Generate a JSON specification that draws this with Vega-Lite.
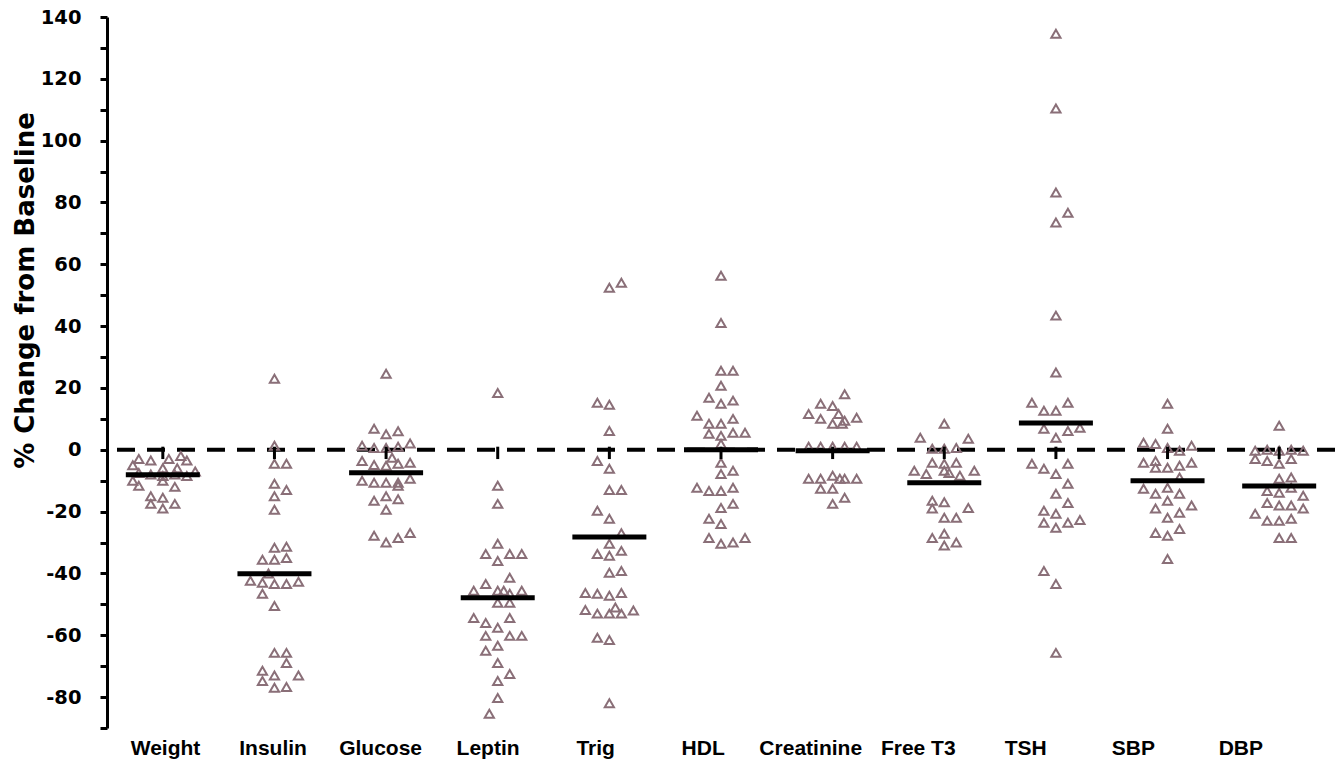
{
  "$schema": "https://vega.github.io/schema/vega-lite/v6.json",
  "autosize": {"type": "none"},
  "padding": {"left": 107, "top": 17, "right": 5, "bottom": 34},
  "width": 1228,
  "height": 711,
  "background": "white",
  "config": {"view": {"stroke": null}, "font": "DejaVu Sans"},
  "datasets": {
    "med": [
      {"category": "Weight", "median": -8.1},
      {"category": "Insulin", "median": -40.1},
      {"category": "Glucose", "median": -7.4},
      {"category": "Leptin", "median": -47.9},
      {"category": "Trig", "median": -28.2},
      {"category": "HDL", "median": 0},
      {"category": "Creatinine", "median": -0.3},
      {"category": "Free T3", "median": -10.7},
      {"category": "TSH", "median": 8.7},
      {"category": "SBP", "median": -10},
      {"category": "DBP", "median": -11.7}
    ],
    "pts": [
      {"category": "Weight", "slot": -2, "pct": -3},
      {"category": "Weight", "slot": -1, "pct": -3.5},
      {"category": "Weight", "slot": 0.5, "pct": -3},
      {"category": "Weight", "slot": 1.5, "pct": -2},
      {"category": "Weight", "slot": 2, "pct": -3.5},
      {"category": "Weight", "slot": 0, "pct": -6},
      {"category": "Weight", "slot": 1.2, "pct": -6},
      {"category": "Weight", "slot": -2.5, "pct": -5},
      {"category": "Weight", "slot": -2, "pct": -7.5},
      {"category": "Weight", "slot": -1, "pct": -8},
      {"category": "Weight", "slot": 0, "pct": -8.5},
      {"category": "Weight", "slot": 1, "pct": -8},
      {"category": "Weight", "slot": 2, "pct": -8.5},
      {"category": "Weight", "slot": 2.7, "pct": -7},
      {"category": "Weight", "slot": -2.5, "pct": -10},
      {"category": "Weight", "slot": -2, "pct": -11.6},
      {"category": "Weight", "slot": 0, "pct": -10},
      {"category": "Weight", "slot": 1, "pct": -12},
      {"category": "Weight", "slot": -1, "pct": -15},
      {"category": "Weight", "slot": 0, "pct": -15.5},
      {"category": "Weight", "slot": 1, "pct": -17.5},
      {"category": "Weight", "slot": -1, "pct": -17.5},
      {"category": "Weight", "slot": 0, "pct": -19},

      {"category": "Insulin", "slot": 0, "pct": 23},
      {"category": "Insulin", "slot": 0, "pct": 1.3},
      {"category": "Insulin", "slot": 0, "pct": -4.5},
      {"category": "Insulin", "slot": 1, "pct": -4.5},
      {"category": "Insulin", "slot": 0, "pct": -11},
      {"category": "Insulin", "slot": 1, "pct": -13},
      {"category": "Insulin", "slot": 0, "pct": -15},
      {"category": "Insulin", "slot": 0, "pct": -19.4},
      {"category": "Insulin", "slot": 0, "pct": -31.7},
      {"category": "Insulin", "slot": 1, "pct": -31.4},
      {"category": "Insulin", "slot": -1, "pct": -35.6},
      {"category": "Insulin", "slot": 0, "pct": -35.6},
      {"category": "Insulin", "slot": 1, "pct": -35},
      {"category": "Insulin", "slot": -0.5, "pct": -40},
      {"category": "Insulin", "slot": -2, "pct": -42.4},
      {"category": "Insulin", "slot": -1, "pct": -43},
      {"category": "Insulin", "slot": 0, "pct": -43.4},
      {"category": "Insulin", "slot": 1, "pct": -43.4},
      {"category": "Insulin", "slot": 2, "pct": -42.7},
      {"category": "Insulin", "slot": -1, "pct": -46.6},
      {"category": "Insulin", "slot": 0, "pct": -50.5},
      {"category": "Insulin", "slot": 0, "pct": -65.7},
      {"category": "Insulin", "slot": 1, "pct": -65.7},
      {"category": "Insulin", "slot": 1, "pct": -69},
      {"category": "Insulin", "slot": -1, "pct": -71.5},
      {"category": "Insulin", "slot": 0, "pct": -73},
      {"category": "Insulin", "slot": -1, "pct": -74.8},
      {"category": "Insulin", "slot": 2, "pct": -73},
      {"category": "Insulin", "slot": 0, "pct": -77},
      {"category": "Insulin", "slot": 1, "pct": -76.7},

      {"category": "Glucose", "slot": 0, "pct": 24.6},
      {"category": "Glucose", "slot": -1, "pct": 6.8},
      {"category": "Glucose", "slot": 0, "pct": 5},
      {"category": "Glucose", "slot": 1, "pct": 6},
      {"category": "Glucose", "slot": -2, "pct": 1.3},
      {"category": "Glucose", "slot": -1, "pct": 0.6},
      {"category": "Glucose", "slot": 0, "pct": 0.6},
      {"category": "Glucose", "slot": 1, "pct": 1},
      {"category": "Glucose", "slot": 2, "pct": 2},
      {"category": "Glucose", "slot": 0.5, "pct": -2.6},
      {"category": "Glucose", "slot": -2, "pct": -3.6},
      {"category": "Glucose", "slot": -1, "pct": -4.9},
      {"category": "Glucose", "slot": 0, "pct": -5.2},
      {"category": "Glucose", "slot": 1, "pct": -4.5},
      {"category": "Glucose", "slot": 2, "pct": -4.2},
      {"category": "Glucose", "slot": -2, "pct": -10},
      {"category": "Glucose", "slot": -1, "pct": -10.7},
      {"category": "Glucose", "slot": 0, "pct": -10.7},
      {"category": "Glucose", "slot": 1, "pct": -10.7},
      {"category": "Glucose", "slot": 2, "pct": -9.4},
      {"category": "Glucose", "slot": 1, "pct": -11.6},
      {"category": "Glucose", "slot": -1, "pct": -16.5},
      {"category": "Glucose", "slot": 0, "pct": -15},
      {"category": "Glucose", "slot": 1, "pct": -16},
      {"category": "Glucose", "slot": 0, "pct": -19.4},
      {"category": "Glucose", "slot": -1, "pct": -27.8},
      {"category": "Glucose", "slot": 0, "pct": -30},
      {"category": "Glucose", "slot": 1, "pct": -28.5},
      {"category": "Glucose", "slot": 2, "pct": -26.9},

      {"category": "Leptin", "slot": 0, "pct": 18.4},
      {"category": "Leptin", "slot": 0, "pct": -11.6},
      {"category": "Leptin", "slot": 0, "pct": -17.5},
      {"category": "Leptin", "slot": -1, "pct": -33.7},
      {"category": "Leptin", "slot": 0, "pct": -30.4},
      {"category": "Leptin", "slot": 0, "pct": -36},
      {"category": "Leptin", "slot": 1, "pct": -33.7},
      {"category": "Leptin", "slot": 2, "pct": -33.7},
      {"category": "Leptin", "slot": 1, "pct": -41.4},
      {"category": "Leptin", "slot": -2, "pct": -45.6},
      {"category": "Leptin", "slot": -1, "pct": -43.4},
      {"category": "Leptin", "slot": 0, "pct": -45.6},
      {"category": "Leptin", "slot": 0.5, "pct": -45.6},
      {"category": "Leptin", "slot": 1, "pct": -46.6},
      {"category": "Leptin", "slot": 2, "pct": -45.6},
      {"category": "Leptin", "slot": 0, "pct": -49.5},
      {"category": "Leptin", "slot": 1, "pct": -49.5},
      {"category": "Leptin", "slot": -2, "pct": -54.4},
      {"category": "Leptin", "slot": -1, "pct": -56},
      {"category": "Leptin", "slot": 0, "pct": -57.6},
      {"category": "Leptin", "slot": 1, "pct": -54.4},
      {"category": "Leptin", "slot": -1, "pct": -60.2},
      {"category": "Leptin", "slot": 1, "pct": -60.2},
      {"category": "Leptin", "slot": 2, "pct": -60.2},
      {"category": "Leptin", "slot": -1, "pct": -65},
      {"category": "Leptin", "slot": 0, "pct": -63.4},
      {"category": "Leptin", "slot": 0, "pct": -69},
      {"category": "Leptin", "slot": 0, "pct": -74.8},
      {"category": "Leptin", "slot": 1, "pct": -72.5},
      {"category": "Leptin", "slot": 0, "pct": -80.3},
      {"category": "Leptin", "slot": -0.7, "pct": -85.4},

      {"category": "Trig", "slot": 0, "pct": 52.4},
      {"category": "Trig", "slot": 1, "pct": 54},
      {"category": "Trig", "slot": -1, "pct": 15.2},
      {"category": "Trig", "slot": 0, "pct": 14.6},
      {"category": "Trig", "slot": 0, "pct": 6.1},
      {"category": "Trig", "slot": -1, "pct": -3.6},
      {"category": "Trig", "slot": 0, "pct": -6.1},
      {"category": "Trig", "slot": 0, "pct": -13},
      {"category": "Trig", "slot": 1, "pct": -13},
      {"category": "Trig", "slot": -1, "pct": -19.7},
      {"category": "Trig", "slot": 0, "pct": -22.3},
      {"category": "Trig", "slot": 1, "pct": -27},
      {"category": "Trig", "slot": 0, "pct": -30.4},
      {"category": "Trig", "slot": -1, "pct": -33.7},
      {"category": "Trig", "slot": 0, "pct": -34.3},
      {"category": "Trig", "slot": 1, "pct": -32.7},
      {"category": "Trig", "slot": 0, "pct": -39.8},
      {"category": "Trig", "slot": 1, "pct": -39.2},
      {"category": "Trig", "slot": -2, "pct": -46.3},
      {"category": "Trig", "slot": -1, "pct": -46.6},
      {"category": "Trig", "slot": 0, "pct": -47.2},
      {"category": "Trig", "slot": 1, "pct": -46.3},
      {"category": "Trig", "slot": -2, "pct": -51.8},
      {"category": "Trig", "slot": -1, "pct": -53},
      {"category": "Trig", "slot": 0, "pct": -53},
      {"category": "Trig", "slot": 0.5, "pct": -51},
      {"category": "Trig", "slot": 1, "pct": -53},
      {"category": "Trig", "slot": 2, "pct": -52},
      {"category": "Trig", "slot": -1, "pct": -60.8},
      {"category": "Trig", "slot": 0, "pct": -61.5},
      {"category": "Trig", "slot": 0, "pct": -82},

      {"category": "HDL", "slot": 0, "pct": 56.3},
      {"category": "HDL", "slot": 0, "pct": 41},
      {"category": "HDL", "slot": 0, "pct": 25.6},
      {"category": "HDL", "slot": 1, "pct": 25.6},
      {"category": "HDL", "slot": 0, "pct": 20.7},
      {"category": "HDL", "slot": -1, "pct": 16.8},
      {"category": "HDL", "slot": 0, "pct": 14.9},
      {"category": "HDL", "slot": 1, "pct": 15.9},
      {"category": "HDL", "slot": -2, "pct": 11},
      {"category": "HDL", "slot": -1, "pct": 8.4},
      {"category": "HDL", "slot": 0, "pct": 8.4},
      {"category": "HDL", "slot": 1, "pct": 10},
      {"category": "HDL", "slot": -1, "pct": 5.2},
      {"category": "HDL", "slot": 0, "pct": 4.5},
      {"category": "HDL", "slot": 1, "pct": 5.5},
      {"category": "HDL", "slot": 2, "pct": 5.5},
      {"category": "HDL", "slot": 0, "pct": 1.9},
      {"category": "HDL", "slot": 0, "pct": -4.2},
      {"category": "HDL", "slot": 0, "pct": -7.8},
      {"category": "HDL", "slot": 1, "pct": -6.8},
      {"category": "HDL", "slot": -2, "pct": -12.3},
      {"category": "HDL", "slot": -1, "pct": -13.3},
      {"category": "HDL", "slot": 0, "pct": -13.3},
      {"category": "HDL", "slot": 1, "pct": -12.3},
      {"category": "HDL", "slot": 0, "pct": -18.8},
      {"category": "HDL", "slot": 1, "pct": -17.5},
      {"category": "HDL", "slot": -1, "pct": -22.3},
      {"category": "HDL", "slot": 0, "pct": -24},
      {"category": "HDL", "slot": -1, "pct": -28.5},
      {"category": "HDL", "slot": 0, "pct": -30.4},
      {"category": "HDL", "slot": 1, "pct": -30},
      {"category": "HDL", "slot": 2, "pct": -28.5},

      {"category": "Creatinine", "slot": 1, "pct": 18},
      {"category": "Creatinine", "slot": -1, "pct": 14.9},
      {"category": "Creatinine", "slot": 0, "pct": 14.2},
      {"category": "Creatinine", "slot": -2, "pct": 11.6},
      {"category": "Creatinine", "slot": -1, "pct": 10},
      {"category": "Creatinine", "slot": 0.5, "pct": 11.6},
      {"category": "Creatinine", "slot": 1, "pct": 9.4},
      {"category": "Creatinine", "slot": 2, "pct": 10.4},
      {"category": "Creatinine", "slot": 0, "pct": 8.4},
      {"category": "Creatinine", "slot": 0.8, "pct": 8.4},
      {"category": "Creatinine", "slot": -2, "pct": 1},
      {"category": "Creatinine", "slot": -1, "pct": 1},
      {"category": "Creatinine", "slot": 0, "pct": 1},
      {"category": "Creatinine", "slot": 1, "pct": 1},
      {"category": "Creatinine", "slot": 2, "pct": 1},
      {"category": "Creatinine", "slot": -2, "pct": -9.4},
      {"category": "Creatinine", "slot": -1, "pct": -9.4},
      {"category": "Creatinine", "slot": 0, "pct": -8.4},
      {"category": "Creatinine", "slot": 0.6, "pct": -9.4},
      {"category": "Creatinine", "slot": 1, "pct": -9.4},
      {"category": "Creatinine", "slot": 2, "pct": -9.4},
      {"category": "Creatinine", "slot": -1, "pct": -12.6},
      {"category": "Creatinine", "slot": 0, "pct": -12.6},
      {"category": "Creatinine", "slot": 1, "pct": -15.5},
      {"category": "Creatinine", "slot": 0, "pct": -17.5},

      {"category": "Free T3", "slot": 0, "pct": 8.4},
      {"category": "Free T3", "slot": -2, "pct": 3.9},
      {"category": "Free T3", "slot": 2, "pct": 3.6},
      {"category": "Free T3", "slot": -1, "pct": 0.3},
      {"category": "Free T3", "slot": 0, "pct": 0.3},
      {"category": "Free T3", "slot": 1, "pct": 0.6},
      {"category": "Free T3", "slot": -1, "pct": -4.2},
      {"category": "Free T3", "slot": 0, "pct": -4.5},
      {"category": "Free T3", "slot": 1, "pct": -4.2},
      {"category": "Free T3", "slot": -2.5, "pct": -6.8},
      {"category": "Free T3", "slot": -1.5, "pct": -7.8},
      {"category": "Free T3", "slot": 0, "pct": -6.8},
      {"category": "Free T3", "slot": 0.4, "pct": -7.5},
      {"category": "Free T3", "slot": 1.3, "pct": -8.4},
      {"category": "Free T3", "slot": 2.5, "pct": -6.8},
      {"category": "Free T3", "slot": -1, "pct": -16.5},
      {"category": "Free T3", "slot": 0, "pct": -17},
      {"category": "Free T3", "slot": -1, "pct": -19},
      {"category": "Free T3", "slot": 2, "pct": -18.8},
      {"category": "Free T3", "slot": 0, "pct": -22},
      {"category": "Free T3", "slot": 1, "pct": -22},
      {"category": "Free T3", "slot": -1, "pct": -28.5},
      {"category": "Free T3", "slot": 0, "pct": -27.2},
      {"category": "Free T3", "slot": 1, "pct": -30},
      {"category": "Free T3", "slot": 0, "pct": -31},

      {"category": "TSH", "slot": 0, "pct": 134.6},
      {"category": "TSH", "slot": 0, "pct": 110.4},
      {"category": "TSH", "slot": 0, "pct": 83.2},
      {"category": "TSH", "slot": 1, "pct": 76.7},
      {"category": "TSH", "slot": 0, "pct": 73.5},
      {"category": "TSH", "slot": 0, "pct": 43.4},
      {"category": "TSH", "slot": 0, "pct": 25},
      {"category": "TSH", "slot": -2, "pct": 15.2},
      {"category": "TSH", "slot": -1, "pct": 12.6},
      {"category": "TSH", "slot": 0, "pct": 12.6},
      {"category": "TSH", "slot": 1, "pct": 15.2},
      {"category": "TSH", "slot": -1, "pct": 6.8},
      {"category": "TSH", "slot": 0, "pct": 3.9},
      {"category": "TSH", "slot": 1, "pct": 6.1},
      {"category": "TSH", "slot": 2, "pct": 7.1},
      {"category": "TSH", "slot": -2, "pct": -4.5},
      {"category": "TSH", "slot": -1, "pct": -6.1},
      {"category": "TSH", "slot": 0, "pct": -7.8},
      {"category": "TSH", "slot": 1, "pct": -4.5},
      {"category": "TSH", "slot": 1, "pct": -11},
      {"category": "TSH", "slot": 0, "pct": -14.2},
      {"category": "TSH", "slot": 1, "pct": -17.2},
      {"category": "TSH", "slot": -1, "pct": -19.7},
      {"category": "TSH", "slot": 0, "pct": -20.7},
      {"category": "TSH", "slot": -1, "pct": -23.6},
      {"category": "TSH", "slot": 0, "pct": -25.2},
      {"category": "TSH", "slot": 1, "pct": -23.6},
      {"category": "TSH", "slot": 2, "pct": -22.7},
      {"category": "TSH", "slot": -1, "pct": -39.2},
      {"category": "TSH", "slot": 0, "pct": -43.4},
      {"category": "TSH", "slot": 0, "pct": -65.7},

      {"category": "SBP", "slot": 0, "pct": 14.9},
      {"category": "SBP", "slot": 0, "pct": 6.8},
      {"category": "SBP", "slot": -2, "pct": 2.3},
      {"category": "SBP", "slot": -1, "pct": 1.9},
      {"category": "SBP", "slot": 0, "pct": 0.6},
      {"category": "SBP", "slot": 1, "pct": -0.3},
      {"category": "SBP", "slot": 2, "pct": 1.3},
      {"category": "SBP", "slot": -2, "pct": -4.2},
      {"category": "SBP", "slot": -1, "pct": -3.6},
      {"category": "SBP", "slot": -1, "pct": -5.8},
      {"category": "SBP", "slot": 0, "pct": -5.8},
      {"category": "SBP", "slot": 1, "pct": -5.2},
      {"category": "SBP", "slot": 2, "pct": -4.2},
      {"category": "SBP", "slot": 1, "pct": -9},
      {"category": "SBP", "slot": -2, "pct": -12.6},
      {"category": "SBP", "slot": -1, "pct": -14.2},
      {"category": "SBP", "slot": 0, "pct": -12.3},
      {"category": "SBP", "slot": 1, "pct": -14.2},
      {"category": "SBP", "slot": 0, "pct": -16.5},
      {"category": "SBP", "slot": -1, "pct": -19},
      {"category": "SBP", "slot": 1, "pct": -20.4},
      {"category": "SBP", "slot": 2, "pct": -18},
      {"category": "SBP", "slot": 0, "pct": -22},
      {"category": "SBP", "slot": -1, "pct": -26.9},
      {"category": "SBP", "slot": 0, "pct": -27.8},
      {"category": "SBP", "slot": 1, "pct": -25.6},
      {"category": "SBP", "slot": 0, "pct": -35.3},

      {"category": "DBP", "slot": 0, "pct": 7.8},
      {"category": "DBP", "slot": -2, "pct": -0.3},
      {"category": "DBP", "slot": -1, "pct": 0},
      {"category": "DBP", "slot": 0, "pct": -0.3},
      {"category": "DBP", "slot": 1, "pct": 0},
      {"category": "DBP", "slot": 2, "pct": -0.3},
      {"category": "DBP", "slot": -2, "pct": -3},
      {"category": "DBP", "slot": -1, "pct": -3.6},
      {"category": "DBP", "slot": 0, "pct": -4.5},
      {"category": "DBP", "slot": 1, "pct": -3},
      {"category": "DBP", "slot": 0, "pct": -9.4},
      {"category": "DBP", "slot": 1, "pct": -9},
      {"category": "DBP", "slot": -1, "pct": -13.3},
      {"category": "DBP", "slot": 0, "pct": -13.9},
      {"category": "DBP", "slot": 1, "pct": -12.3},
      {"category": "DBP", "slot": 2, "pct": -14.9},
      {"category": "DBP", "slot": -1, "pct": -17.2},
      {"category": "DBP", "slot": 0, "pct": -18},
      {"category": "DBP", "slot": 1, "pct": -18},
      {"category": "DBP", "slot": 2, "pct": -19},
      {"category": "DBP", "slot": -2, "pct": -20.7},
      {"category": "DBP", "slot": -1, "pct": -23},
      {"category": "DBP", "slot": 0, "pct": -23},
      {"category": "DBP", "slot": 1, "pct": -22.3},
      {"category": "DBP", "slot": 0, "pct": -28.5},
      {"category": "DBP", "slot": 1, "pct": -28.5}
    ]
  },
  "encoding": {
    "y": {
      "type": "quantitative",
      "scale": {"domain": [-90, 140], "nice": false, "zero": false},
      "axis": {
        "title": "% Change from Baseline",
        "titleFont": "DejaVu Sans",
        "titleFontSize": 26,
        "titleFontWeight": "bold",
        "titleColor": "black",
        "titleX": -82,
        "titleY": 273,
        "titleAngle": -90,
        "titleAlign": "center",
        "titleBaseline": "middle",
        "values": [-90, -80, -70, -60, -50, -40, -30, -20, -10, 0, 10, 20, 30, 40, 50, 60, 70, 80, 90, 100, 110, 120, 130, 140],
        "labelExpr": "datum.value % 20 == 0 ? toString(datum.value) : ''",
        "labelFont": "DejaVu Sans",
        "labelFontSize": 19.5,
        "labelFontWeight": "bold",
        "labelColor": "black",
        "labelPadding": 19,
        "labelBound": false,
        "labelOverlap": false,
        "labelFlush": false,
        "grid": false,
        "domainColor": "black",
        "domainWidth": 3,
        "tickColor": "black",
        "tickWidth": 3,
        "tickSize": 7
      }
    }
  },
  "layer": [
    {
      "data": {"values": [{"base": 0}]},
      "mark": {"type": "rule", "color": "black", "strokeWidth": 4, "strokeDash": [18, 12]},
      "encoding": {"y": {"field": "base", "type": "quantitative"}}
    },
    {
      "layer": [
        {
          "data": {"name": "pts"},
          "mark": {"type": "point", "shape": "triangle-up", "filled": false, "color": "#8a6f78", "strokeWidth": 2, "size": 85, "opacity": 1},
          "encoding": {
            "x": {"field": "category", "type": "nominal",
                  "scale": {"domain": ["Weight", "Insulin", "Glucose", "Leptin", "Trig", "HDL", "Creatinine", "Free T3", "TSH", "SBP", "DBP"], "paddingInner": 0, "paddingOuter": 0},
                  "axis": null},
            "xOffset": {"field": "slot", "type": "quantitative", "scale": {"domain": [-4.65, 4.65], "nice": false, "zero": false}},
            "y": {"field": "pct", "type": "quantitative"}
          }
        },
        {
          "data": {"name": "med"},
          "mark": {"type": "tick", "color": "black", "thickness": 5, "size": 74, "opacity": 1},
          "encoding": {
            "x": {"field": "category", "type": "nominal", "axis": null},
            "y": {"field": "median", "type": "quantitative"}
          }
        },
        {
          "data": {"name": "med"},
          "mark": {"type": "rule", "color": "black", "strokeWidth": 3},
          "encoding": {
            "x": {"field": "category", "type": "nominal", "axis": null},
            "y": {"datum": 1},
            "y2": {"datum": -3}
          }
        }
      ]
    },
    {
      "data": {"name": "med"},
      "mark": {"type": "tick", "opacity": 0},
      "encoding": {
        "x": {"field": "category", "type": "nominal",
              "scale": {"type": "point", "domain": ["Weight", "Insulin", "Glucose", "Leptin", "Trig", "HDL", "Creatinine", "Free T3", "TSH", "SBP", "DBP"], "padding": 0.71, "align": 0.38},
              "axis": {"orient": "bottom", "title": null, "labelAngle": 0, "domain": false, "ticks": false, "grid": false,
                       "labelFont": "Liberation Sans", "labelFontSize": 21, "labelFontWeight": "bold", "labelColor": "black",
                       "labelPadding": 9, "labelOverlap": false, "labelBound": false}},
        "y": {"datum": 0}
      }
    }
  ],
  "resolve": {"scale": {"x": "independent"}, "axis": {"x": "independent"}}
}
